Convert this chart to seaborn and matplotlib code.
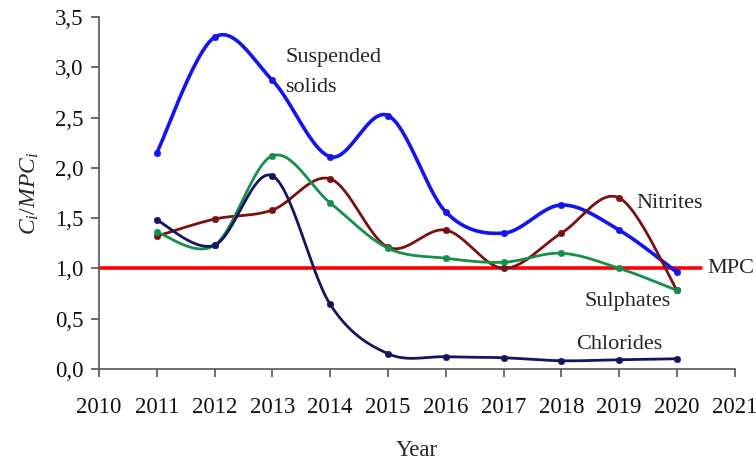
import numpy as np
import pandas as pd
import matplotlib
matplotlib.use("Agg")
import matplotlib.pyplot as plt
import seaborn as sns

years = [2011, 2012, 2013, 2014, 2015, 2016, 2017, 2018, 2019, 2020]
suspended = [2.15, 3.30, 2.87, 2.11, 2.52, 1.56, 1.35, 1.63, 1.38, 0.96]
nitrites = [1.32, 1.49, 1.58, 1.89, 1.21, 1.38, 1.00, 1.35, 1.70, 0.78]
sulphates = [1.36, 1.23, 2.12, 1.65, 1.20, 1.10, 1.06, 1.15, 1.00, 0.78]
chlorides = [1.48, 1.23, 1.92, 0.64, 0.15, 0.12, 0.11, 0.08, 0.09, 0.10]
mpc = 1.0

series = {
    "Suspended solids": (suspended, "#1414f0", 2.6),
    "Nitrites": (nitrites, "#7a1010", 2.0),
    "Sulphates": (sulphates, "#15904a", 2.0),
    "Chlorides": (chlorides, "#141460", 2.0),
}


def smooth(x, y, n=30):
    # Catmull-Rom like the Excel "smoothed line"
    x = np.asarray(x, float)
    y = np.asarray(y, float)
    px = np.concatenate([[x[0]], x, [x[-1]]])
    py = np.concatenate([[y[0]], y, [y[-1]]])
    xs, ys = [], []
    t = np.linspace(0, 1, n)
    for i in range(1, len(px) - 2):
        for arr, out in ((px, xs), (py, ys)):
            p0, p1, p2, p3 = arr[i - 1], arr[i], arr[i + 1], arr[i + 2]
            out.extend(0.5 * (2 * p1 + (-p0 + p2) * t
                              + (2 * p0 - 5 * p1 + 4 * p2 - p3) * t ** 2
                              + (-p0 + 3 * p1 - 3 * p2 + p3) * t ** 3))
    return np.array(xs), np.array(ys)


sns.set_style("white")
plt.rcParams["font.family"] = ["Liberation Serif", "DejaVu Serif"]
plt.rcParams["mathtext.fontset"] = "custom"
plt.rcParams["mathtext.it"] = "Liberation Serif:italic"
plt.rcParams["mathtext.rm"] = "Liberation Serif"

fig, ax = plt.subplots(figsize=(7.56, 4.61), dpi=100)
fig.subplots_adjust(left=0.131, right=0.972, bottom=0.2, top=0.963)

ax.plot([2010, 2020.42], [mpc, mpc], color="#ff0000", lw=2.6, zorder=1)

for name, (vals, col, lw) in series.items():
    sx, sy = smooth(years, vals)
    sns.lineplot(x=sx, y=sy, ax=ax, color=col, lw=lw, sort=False, zorder=3)
    sns.scatterplot(x=years, y=vals, ax=ax, color=col, s=22, edgecolor=col, zorder=4)

ax.set_xlim(2010, 2021)
ax.set_ylim(0, 3.5)
ax.set_xticks(range(2010, 2022))
ax.set_yticks(np.arange(0, 3.51, 0.5))
ax.set_yticklabels([f"{v:.1f}".replace(".", ",") for v in np.arange(0, 3.51, 0.5)])
ax.tick_params(axis="both", labelsize=16.5, direction="out", length=6, width=1.2,
               color="#555555", labelcolor="#111111", bottom=True, left=True)
ax.tick_params(axis="x", pad=14)
ax.tick_params(axis="y", pad=5)
for s in ["top", "right"]:
    ax.spines[s].set_visible(False)
for s in ["left", "bottom"]:
    ax.spines[s].set_color("#555555")
    ax.spines[s].set_linewidth(1.2)

ax.set_xlabel("Year", fontsize=16.5, labelpad=16)
ax.set_ylabel(r"$C_i/MPC_i$", fontsize=17, labelpad=10)

fs = 16
ax.text(2013.22, 2.95, "Suspended\nsolids", fontsize=fs, ha="left", va="center", linespacing=1.75)
ax.text(2019.3, 1.64, "Nitrites", fontsize=fs, ha="left", va="center")
ax.text(2020.52, 1.0, "MPC", fontsize=fs, ha="left", va="center")
ax.text(2018.4, 0.67, "Sulphates", fontsize=fs, ha="left", va="center")
ax.text(2018.25, 0.24, "Chlorides", fontsize=fs, ha="left", va="center")

fig.savefig("out.png", dpi=100)
